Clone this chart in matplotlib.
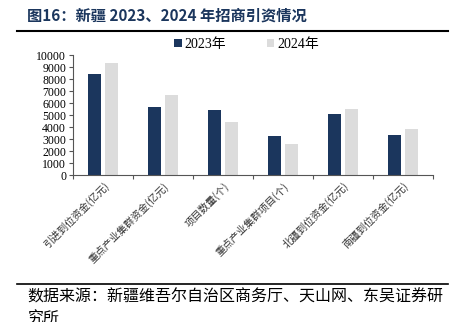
import numpy as np
import matplotlib.pyplot as plt
from matplotlib.lines import Line2D

categories = ["引进到位资金(亿元)", "重点产业集群资金(亿元)", "项目数量(个)",
              "重点产业集群项目(个)", "北疆到位资金(亿元)", "南疆到位资金(亿元)"]
values_2023 = [8420, 5680, 5420, 3250, 5080, 3320]
values_2024 = [9360, 6700, 4390, 2590, 5530, 3800]
series_names = ["2023年", "2024年"]
y_ticks = list(range(0, 10001, 1000))

NAVY = "#1b365d"
GREY = "#dcdcdc"
CJK = ["Noto Sans CJK SC", "DejaVu Sans"]
SERIF = ["Liberation Serif", "Noto Sans CJK SC"]


def main():
    fig = plt.figure(figsize=(4.56, 3.22), dpi=100)
    ax = fig.add_axes([0.160, 0.4565, 0.7896, 0.3725])

    x = np.arange(len(categories))
    w = 0.21
    ax.bar(x - 0.14, values_2023, width=w, color=NAVY, label=series_names[0])
    ax.bar(x + 0.14, values_2024, width=w, color=GREY, label=series_names[1])

    ax.set_xlim(-0.5, len(categories) - 0.5)
    ax.set_ylim(0, 10000)
    ax.set_yticks(y_ticks)
    ax.set_yticklabels([str(v) for v in y_ticks], family=SERIF, fontsize=8.5)

    # ticks sit on the category boundaries, labels at the centres
    ax.set_xticks(np.arange(-0.5, len(categories)), minor=False)
    ax.set_xticklabels([])
    ax.set_xticks(x, minor=True)
    ax.set_xticklabels(categories, minor=True, rotation=45, ha="right",
                       rotation_mode="anchor", family=CJK, fontsize=7.3,
                       color="#333333")
    ax.tick_params(axis="x", which="minor", length=0, pad=4)
    ax.tick_params(axis="x", which="major", length=3, color="#555555")
    ax.tick_params(axis="y", length=3, color="#555555", pad=2)

    for s in ["top", "right"]:
        ax.spines[s].set_visible(False)
    for s in ["left", "bottom"]:
        ax.spines[s].set_color("#555555")
        ax.spines[s].set_linewidth(0.8)

    ax.legend(loc="center", bbox_to_anchor=(0.482, 1.09), ncol=2,
              frameon=False, handlelength=0.55, handleheight=0.55,
              columnspacing=2.9, handletextpad=0.2,
              prop={"family": SERIF, "size": 10})

    fig.text(0.059, 0.953, "图16：新疆 2023、2024 年招商引资情况", family=CJK,
             fontsize=11, fontweight="bold", color=NAVY, va="center")
    fig.add_artist(Line2D([0.037, 0.982], [0.904, 0.904], color="black",
                          linewidth=1.5, transform=fig.transFigure))
    fig.add_artist(Line2D([0.037, 0.982], [0.118, 0.118], color="black",
                          linewidth=1.2, transform=fig.transFigure))
    fig.text(0.059, 0.077, "数据来源：新疆维吾尔自治区商务厅、天山网、东吴证券研",
             family=CJK, fontsize=11.5, color="black", va="center")
    fig.text(0.059, 0.008, "究所", family=CJK, fontsize=11.5, color="black",
             va="center")

    fig.savefig("out.png", dpi=100)


if __name__ == "__main__":
    main()
